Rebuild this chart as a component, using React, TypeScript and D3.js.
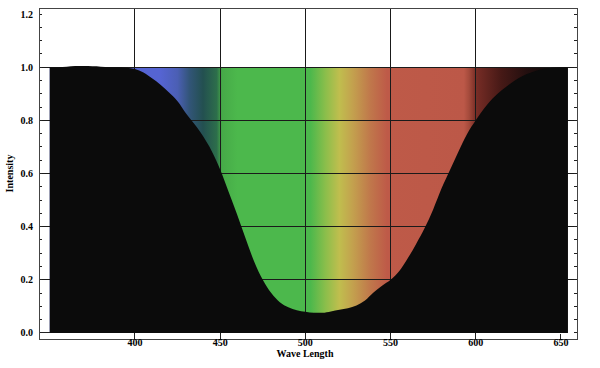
import * as d3 from "d3";

// curve (nm, relative intensity)
const wavelengths = [350, 355, 360, 365, 370, 375, 380, 385, 390, 395, 400, 405, 410, 415, 420, 425, 430, 435, 440, 445, 450, 455, 460, 465, 470, 475, 480, 485, 490, 495, 500, 505, 510, 515, 520, 525, 530, 535, 540, 545, 550, 555, 560, 565, 570, 575, 580, 585, 590, 595, 600, 605, 610, 615, 620, 625, 630, 635, 640, 645, 650, 654];
const intensity = [1.0, 1.0, 1.002, 1.004, 1.004, 1.003, 1.002, 1.0, 1.0, 0.998, 0.993, 0.98, 0.958, 0.934, 0.905, 0.872, 0.826, 0.785, 0.74, 0.685, 0.615, 0.53, 0.445, 0.355, 0.268, 0.2, 0.15, 0.116, 0.097, 0.086, 0.08, 0.076, 0.076, 0.081, 0.087, 0.093, 0.103, 0.122, 0.152, 0.178, 0.2, 0.232, 0.28, 0.335, 0.395, 0.465, 0.545, 0.615, 0.685, 0.75, 0.8, 0.845, 0.883, 0.912, 0.937, 0.958, 0.974, 0.986, 0.994, 0.998, 1.0, 1.0];

// colour bands of the spectrum behind the curve
const stopNm = [350, 415, 425, 432, 440, 448, 451, 460, 503, 512, 520, 528, 538, 548, 593, 596, 600, 615, 630, 645];
const stopColor = ["#5564d2", "#5564d2", "#4b5fb4", "#325578", "#235050", "#2d6e4b", "#46aa48", "#4cb84c", "#4cb84c", "#8cbe4b", "#c0be4e", "#c3a04e", "#c0784b", "#be5a48", "#bc5848", "#a54b3c", "#782d26", "#461916", "#230f0f", "#0c0a0a"];

const xTicks = [400, 450, 500, 550, 600, 650];
const xGrid = [400, 450, 500, 550, 600];
const yTicks = [0, 0.2, 0.4, 0.6, 0.8, 1.0, 1.2];
const yGrid = [0.2, 0.4, 0.6, 0.8, 1.0];
const yMinor = d3.range(0, 1.2001, 0.05);

const width = 600,
  height = 368;
const left = 39,
  right = 577,
  top = 8,
  bottom = 339;

const font = "'Liberation Serif', 'Times New Roman', serif";

export default function App() {
  const x = d3.scaleLinear().domain([343.7, 659.4]).range([left, right]);
  const y = d3.scaleLinear().domain([-0.0226, 1.2226]).range([bottom, top]);

  const pts = wavelengths.map((w, i) => [w, intensity[i]]);
  const area = d3
    .area<number[]>()
    .x((d) => x(d[0]))
    .y0(y(0))
    .y1((d) => y(d[1]))
    .curve(d3.curveMonotoneX);

  const x0 = x(wavelengths[0]),
    x1 = x(wavelengths[wavelengths.length - 1]);

  return (
    <svg
      width={width}
      height={height}
      style={{ position: "absolute", left: 0, top: 0, background: "#fff" }}
    >
      <defs>
        <linearGradient id="spec" gradientUnits="userSpaceOnUse" x1={x0} x2={x1} y1={0} y2={0}>
          {stopNm.map((n, i) => (
            <stop key={i} offset={(n - wavelengths[0]) / (wavelengths[wavelengths.length - 1] - wavelengths[0])} stopColor={stopColor[i]} />
          ))}
        </linearGradient>
      </defs>

      <rect x={x0} y={y(1)} width={x1 - x0} height={y(0) - y(1)} fill="url(#spec)" />

      {/* grid */}
      <g stroke="#1a1a1a" strokeWidth={1} shapeRendering="crispEdges">
        {xGrid.map((t) => (
          <line key={t} x1={x(t)} x2={x(t)} y1={top} y2={bottom} />
        ))}
        {yGrid.map((t) => (
          <line key={t} x1={left} x2={right} y1={y(t)} y2={y(t)} />
        ))}
      </g>

      <path d={area(pts) ?? ""} fill="#0b0b0b" />

      {/* ticks */}
      <g stroke="#222" strokeWidth={1} shapeRendering="crispEdges">
        {yMinor.map((t, i) => (
          <g key={i}>
            <line x1={left} x2={left + 3} y1={y(t)} y2={y(t)} />
            <line x1={right} x2={right - 3} y1={y(t)} y2={y(t)} />
          </g>
        ))}
        {[0].map((t) => (
          <line key={t} x1={left} x2={x0} y1={y(t)} y2={y(t)} />
        ))}
        {xTicks.map((t) => (
          <line key={t} x1={x(t)} x2={x(t)} y1={bottom} y2={bottom - 5} />
        ))}
      </g>

      <rect x={left} y={top} width={right - left} height={bottom - top} fill="none" stroke="#444" strokeWidth={1} shapeRendering="crispEdges" />

      <g fontFamily={font} fontWeight="bold" fontSize={10} fill="#000">
        {yTicks.map((t) => (
          <text key={t} x={left - 6} y={y(t)} dy="0.35em" textAnchor="end">
            {t.toFixed(1)}
          </text>
        ))}
        {xTicks.map((t) => (
          <text key={t} x={x(t)} y={bottom + 7} textAnchor="middle">
            {t}
          </text>
        ))}
        <text x={305} y={bottom + 18} textAnchor="middle">
          Wave Length
        </text>
        <text transform={`translate(13,${(top + bottom) / 2}) rotate(-90)`} textAnchor="middle">
          Intensity
        </text>
      </g>
    </svg>
  );
}
